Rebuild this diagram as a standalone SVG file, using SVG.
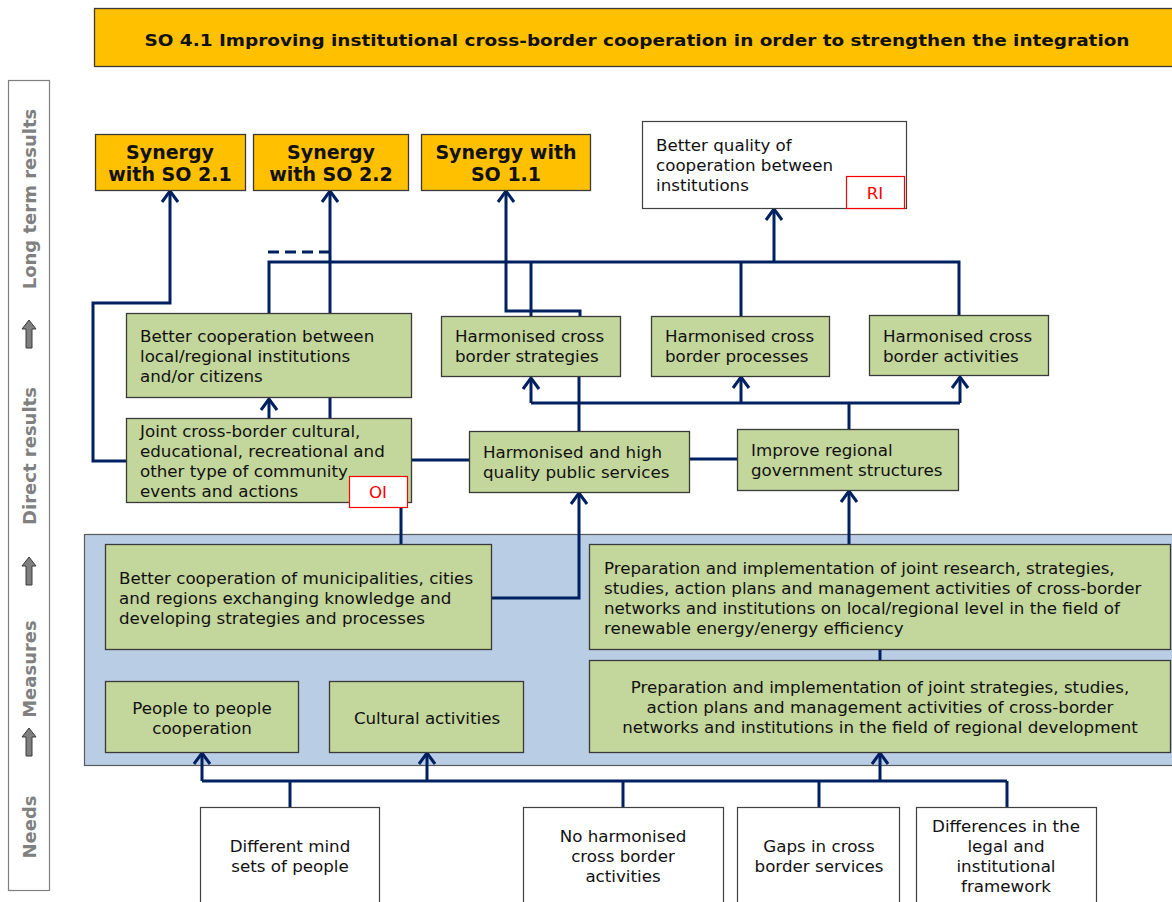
<svg xmlns="http://www.w3.org/2000/svg" width="1172" height="902" viewBox="0 0 1172 902">
  <defs>
    <style>
      .t { font-family: "DejaVu Sans", Verdana, sans-serif; font-size: 16.7px; fill: #111; }
      .c { text-anchor: middle; }
      .b { font-weight: bold; }
      .syn { font-size: 19px; }
      .side { font-family: "DejaVu Sans", Verdana, sans-serif; font-size: 18px; font-weight: bold; fill: #808080; text-anchor: middle; }
      .green { fill: #C3D69B; stroke: #3A3A3A; stroke-width: 1.3; }
      .white { fill: #FFFFFF; stroke: #404040; stroke-width: 1.2; }
      .orange { fill: #FFC000; stroke: #3A3A3A; stroke-width: 1.3; }
      .tag { fill: #FFFFFF; stroke: #FF0000; stroke-width: 1.2; }
      .tagt { font-family: "DejaVu Sans", Verdana, sans-serif; font-size: 16.7px; fill: #FF0000; text-anchor: middle; }
      .ln { fill: none; stroke: #002060; stroke-width: 3; }
      .blk { fill: #7F7F7F; stroke: #3A3A3A; stroke-width: 1; }
    </style>
    <marker id="arrow" markerUnits="userSpaceOnUse" viewBox="-14 -10 16 20" markerWidth="16" markerHeight="20" refX="0" refY="0" orient="auto">
      <path d="M-11,-8 L0,0 L-11,8" fill="none" stroke="#002060" stroke-width="3"/>
    </marker>
    <path id="blockArrow" d="M0,-14 L7,-5 L3,-5 L3,14 L-3,14 L-3,-5 L-7,-5 Z"/>
  </defs>

  <rect width="1172" height="902" fill="#FFFFFF"/>

  <!-- title banner -->
  <g id="title">
    <rect class="orange" x="94.5" y="8.5" width="1090" height="58"/>
    <text class="t b c" x="637" y="46" font-size="18.5" textLength="985" lengthAdjust="spacingAndGlyphs">SO 4.1 Improving institutional cross-border cooperation in order to strengthen the integration</text>
  </g>

  <!-- level legend on the left -->
  <g id="levels">
    <rect x="8.5" y="80.5" width="41" height="810" fill="#FFFFFF" stroke="#7F7F7F" stroke-width="1.2"/>
    <text class="side" transform="translate(36,199) rotate(-90)">Long term results</text>
    <use href="#blockArrow" class="blk" transform="translate(29,334)"/>
    <text class="side" transform="translate(36,456) rotate(-90)">Direct results</text>
    <use href="#blockArrow" class="blk" transform="translate(29,571)"/>
    <text class="side" transform="translate(36,669) rotate(-90)">Measures</text>
    <use href="#blockArrow" class="blk" transform="translate(29,742)"/>
    <text class="side" transform="translate(36,827) rotate(-90)">Needs</text>
  </g>

  <!-- measures panel -->
  <rect id="measures-panel" x="84.5" y="534.5" width="1100" height="231" fill="#B9CDE5" stroke="#5A5A5A" stroke-width="1.2"/>

  <!-- connectors -->
  <g id="connectors">
    <path class="ln" d="M126,461 H93 V303 H170 V191" marker-end="url(#arrow)"/>
    <path class="ln" d="M330,313 V191" marker-end="url(#arrow)"/>
    <path class="ln" d="M330,418 V398"/>
    <path class="ln" d="M268,252 H330" stroke-dasharray="11 6"/>
    <path class="ln" d="M269,313 V262 H959 V315"/>
    <path class="ln" d="M531,316 V262"/>
    <path class="ln" d="M741,316 V262"/>
    <path class="ln" d="M774,262 V209" marker-end="url(#arrow)"/>
    <path class="ln" d="M580,316 V311 H506 V191" marker-end="url(#arrow)"/>
    <path class="ln" d="M269,418 V399" marker-end="url(#arrow)"/>
    <path class="ln" d="M411,460 H469"/>
    <path class="ln" d="M690,459 H737"/>
    <path class="ln" d="M579,431 V377"/>
    <path class="ln" d="M531,403 H960"/>
    <path class="ln" d="M531,403 V378" marker-end="url(#arrow)"/>
    <path class="ln" d="M741,403 V377" marker-end="url(#arrow)"/>
    <path class="ln" d="M960,403 V377" marker-end="url(#arrow)"/>
    <path class="ln" d="M849,429 V403"/>
    <path class="ln" d="M401,508 V545"/>
    <path class="ln" d="M491,598 H579 V493" marker-end="url(#arrow)"/>
    <path class="ln" d="M849,544 V491" marker-end="url(#arrow)"/>
    <path class="ln" d="M880,649 V661"/>
    <path class="ln" d="M202,781 H1007"/>
    <path class="ln" d="M202,781 V753" marker-end="url(#arrow)"/>
    <path class="ln" d="M427,781 V753" marker-end="url(#arrow)"/>
    <path class="ln" d="M880,781 V753" marker-end="url(#arrow)"/>
    <path class="ln" d="M290,807 V781"/>
    <path class="ln" d="M623,807 V781"/>
    <path class="ln" d="M819,807 V781"/>
    <path class="ln" d="M1007,807 V781"/>
  </g>

  <!-- long term results -->
  <g id="synergy-so21">
    <rect class="orange" x="95.5" y="134.5" width="150" height="56"/>
    <text class="t b c syn" x="170" y="159">Synergy</text>
    <text class="t b c syn" x="170" y="181">with SO 2.1</text>
  </g>
  <g id="synergy-so22">
    <rect class="orange" x="253.5" y="134.5" width="155" height="56"/>
    <text class="t b c syn" x="331" y="159">Synergy</text>
    <text class="t b c syn" x="331" y="181">with SO 2.2</text>
  </g>
  <g id="synergy-so11">
    <rect class="orange" x="421.5" y="134.5" width="169" height="56"/>
    <text class="t b c syn" x="506" y="159">Synergy with</text>
    <text class="t b c syn" x="506" y="181">SO 1.1</text>
  </g>
  <g id="better-quality">
    <rect class="white" x="642.5" y="121.5" width="264" height="87"/>
    <text class="t" x="656" y="151">Better quality of</text>
    <text class="t" x="656" y="171">cooperation between</text>
    <text class="t" x="656" y="191">institutions</text>
    <rect class="tag" x="846.5" y="176.5" width="58" height="32"/>
    <text class="tagt" x="875" y="199">RI</text>
  </g>

  <!-- direct results -->
  <g id="better-cooperation">
    <rect class="green" x="126.5" y="313.5" width="285" height="84"/>
    <text class="t" x="140" y="342">Better cooperation between</text>
    <text class="t" x="140" y="362">local/regional institutions</text>
    <text class="t" x="140" y="382">and/or citizens</text>
  </g>
  <g id="harmonised-strategies">
    <rect class="green" x="441.5" y="316.5" width="179" height="60"/>
    <text class="t" x="455" y="342">Harmonised cross</text>
    <text class="t" x="455" y="362">border strategies</text>
  </g>
  <g id="harmonised-processes">
    <rect class="green" x="651.5" y="316.5" width="178" height="60"/>
    <text class="t" x="665" y="342">Harmonised cross</text>
    <text class="t" x="665" y="362">border processes</text>
  </g>
  <g id="harmonised-activities">
    <rect class="green" x="869.5" y="315.5" width="179" height="60"/>
    <text class="t" x="883" y="342">Harmonised cross</text>
    <text class="t" x="883" y="362">border activities</text>
  </g>
  <g id="joint-events">
    <rect class="green" x="126.5" y="418.5" width="285" height="84"/>
    <text class="t" x="140" y="437">Joint cross-border cultural,</text>
    <text class="t" x="140" y="457">educational, recreational and</text>
    <text class="t" x="140" y="477">other type of community</text>
    <text class="t" x="140" y="497">events and actions</text>
    <rect class="tag" x="349.5" y="476.5" width="58" height="31"/>
    <text class="tagt" x="378" y="498">OI</text>
  </g>
  <g id="public-services">
    <rect class="green" x="469.5" y="431.5" width="220" height="61"/>
    <text class="t" x="483" y="458">Harmonised and high</text>
    <text class="t" x="483" y="478">quality public services</text>
  </g>
  <g id="government-structures">
    <rect class="green" x="737.5" y="429.5" width="221" height="61"/>
    <text class="t" x="751" y="456">Improve regional</text>
    <text class="t" x="751" y="476">government structures</text>
  </g>

  <!-- measures -->
  <g id="municipalities">
    <rect class="green" x="105.5" y="544.5" width="386" height="105"/>
    <text class="t" x="119" y="584">Better cooperation of municipalities, cities</text>
    <text class="t" x="119" y="604">and regions exchanging knowledge and</text>
    <text class="t" x="119" y="624">developing strategies and processes</text>
  </g>
  <g id="people-to-people">
    <rect class="green" x="105.5" y="681.5" width="193" height="71"/>
    <text class="t c" x="202" y="714">People to people</text>
    <text class="t c" x="202" y="734">cooperation</text>
  </g>
  <g id="cultural-activities">
    <rect class="green" x="329.5" y="681.5" width="194" height="71"/>
    <text class="t c" x="427" y="724">Cultural activities</text>
  </g>
  <g id="energy-networks">
    <rect class="green" x="589.5" y="544.5" width="581" height="105"/>
    <text class="t" x="604" y="574">Preparation and implementation of joint research, strategies,</text>
    <text class="t" x="604" y="594">studies, action plans and management activities of cross-border</text>
    <text class="t" x="604" y="614">networks and institutions on local/regional level in the field of</text>
    <text class="t" x="604" y="634">renewable energy/energy efficiency</text>
  </g>
  <g id="regional-development">
    <rect class="green" x="589.5" y="660.5" width="581" height="92"/>
    <text class="t c" x="880" y="693">Preparation and implementation of joint strategies, studies,</text>
    <text class="t c" x="880" y="713">action plans and management activities of cross-border</text>
    <text class="t c" x="880" y="733">networks and institutions in the field of regional development</text>
  </g>

  <!-- needs -->
  <g id="mind-sets">
    <rect class="white" x="200.5" y="807.5" width="179" height="100"/>
    <text class="t c" x="290" y="852">Different mind</text>
    <text class="t c" x="290" y="872">sets of people</text>
  </g>
  <g id="no-harmonised">
    <rect class="white" x="523.5" y="807.5" width="200" height="100"/>
    <text class="t c" x="623" y="842">No harmonised</text>
    <text class="t c" x="623" y="862">cross border</text>
    <text class="t c" x="623" y="882">activities</text>
  </g>
  <g id="service-gaps">
    <rect class="white" x="737.5" y="807.5" width="162" height="100"/>
    <text class="t c" x="819" y="852">Gaps in cross</text>
    <text class="t c" x="819" y="872">border services</text>
  </g>
  <g id="legal-differences">
    <rect class="white" x="916.5" y="807.5" width="180" height="100"/>
    <text class="t c" x="1006" y="832">Differences in the</text>
    <text class="t c" x="1006" y="852">legal and</text>
    <text class="t c" x="1006" y="872">institutional</text>
    <text class="t c" x="1006" y="892">framework</text>
  </g>
</svg>
